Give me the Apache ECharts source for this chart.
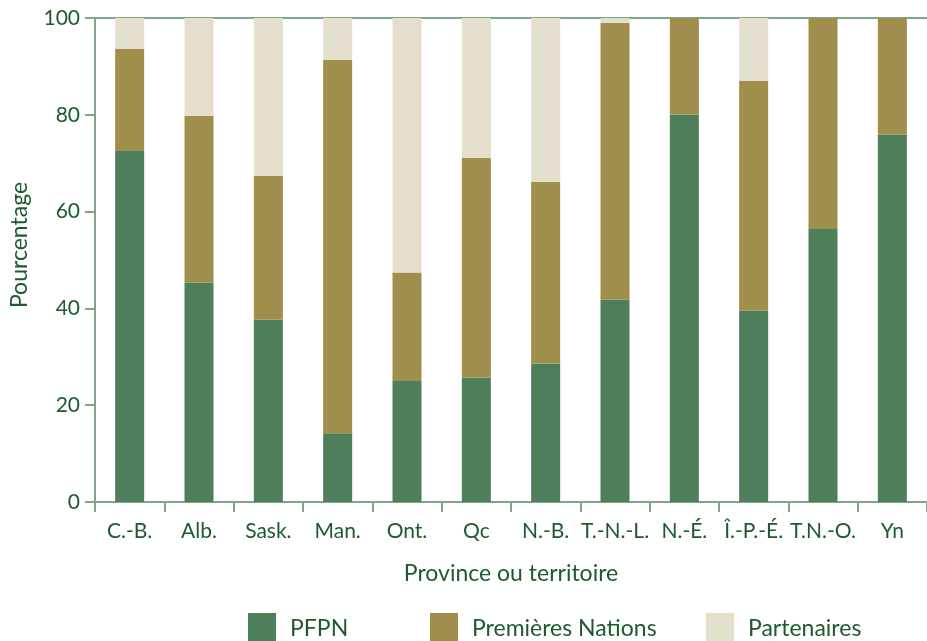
<!DOCTYPE html>
<html>
<head>
<meta charset="utf-8">
<script src="https://cdn.jsdelivr.net/npm/echarts@6/dist/echarts.min.js"></script>
<style>
html,body{margin:0;padding:0;background:#fff;}
#chart{width:927px;height:641px;}
</style>
</head>
<body>
<div id="chart"></div>
<script>
const categories = ['C.-B.', 'Alb.', 'Sask.', 'Man.', 'Ont.', 'Qc', 'N.-B.', 'T.-N.-L.', 'N.-É.', 'Î.-P.-É.', 'T.N.-O.', 'Yn'];
const pfpn = [72.5, 45.3, 37.7, 14.2, 25.0, 25.7, 28.6, 41.8, 80.0, 39.5, 56.4, 75.9];
const premieresNations = [21.1, 34.5, 29.7, 77.1, 22.4, 45.4, 37.5, 57.2, 20.0, 47.5, 43.6, 24.1];
const partenaires = [6.4, 20.2, 32.6, 8.7, 52.6, 28.9, 33.9, 1.0, 0, 13.0, 0, 0];
const yTicks = [0, 20, 40, 60, 80, 100];
const seriesNames = ['PFPN', 'Premières Nations', 'Partenaires'];

const textColor = '#1d5a2e';
const axisColor = '#7fa58a';
const colors = ['#4e7f5b', '#a08e4c', '#e4dfcc'];
const font = 'Lato';

const chart = echarts.init(document.getElementById('chart'), null, {renderer: 'canvas'});

function legendFor(i, left) {
  return {
    data: [seriesNames[i]],
    left: left,
    top: 613,
    padding: 0,
    itemWidth: 28,
    itemHeight: 32,
    icon: 'rect',
    selectedMode: false,
    textStyle: {color: textColor, fontFamily: font, fontSize: 23, padding: [8, 0, 0, 9]}
  };
}

chart.setOption({
  animation: false,
  backgroundColor: '#fff',
  color: colors,
  grid: {left: 94, top: 18, width: 841, bottom: 139, containLabel: false},
  legend: [legendFor(0, 248), legendFor(1, 430), legendFor(2, 706)],
  xAxis: [{
    type: 'category',
    data: categories,
    position: 'bottom',
    name: 'Province ou territoire',
    nameLocation: 'middle',
    nameGap: 60,
    nameTextStyle: {color: textColor, fontFamily: font, fontSize: 23},
    axisLine: {show: true, lineStyle: {color: axisColor, width: 2}},
    axisTick: {show: true, length: 10, lineStyle: {color: axisColor, width: 2}},
    axisLabel: {color: textColor, fontFamily: font, fontSize: 21, margin: 19, interval: 0},
    splitLine: {show: false}
  }, {
    type: 'category',
    data: categories,
    position: 'top',
    axisLine: {show: true, lineStyle: {color: axisColor, width: 2}},
    axisTick: {show: false},
    axisLabel: {show: false},
    splitLine: {show: false}
  }],
  yAxis: {
    type: 'value',
    min: yTicks[0],
    max: yTicks[yTicks.length - 1],
    interval: 20,
    name: 'Pourcentage',
    nameLocation: 'middle',
    nameGap: 64,
    nameTextStyle: {color: textColor, fontFamily: font, fontSize: 23, padding: [0, 0, 0, 30]},
    axisLine: {show: true, lineStyle: {color: axisColor, width: 2}},
    axisTick: {show: true, length: 10, lineStyle: {color: axisColor, width: 2}},
    axisLabel: {color: textColor, fontFamily: font, fontSize: 21, margin: 15},
    splitLine: {show: false}
  },
  series: [
    {name: seriesNames[0], type: 'bar', stack: 'total', data: pfpn, barWidth: 29, itemStyle: {color: colors[0]}},
    {name: seriesNames[1], type: 'bar', stack: 'total', data: premieresNations, barWidth: 29, itemStyle: {color: colors[1]}},
    {name: seriesNames[2], type: 'bar', stack: 'total', data: partenaires, barWidth: 29, itemStyle: {color: colors[2]}}
  ]
});
</script>
</body>
</html>
